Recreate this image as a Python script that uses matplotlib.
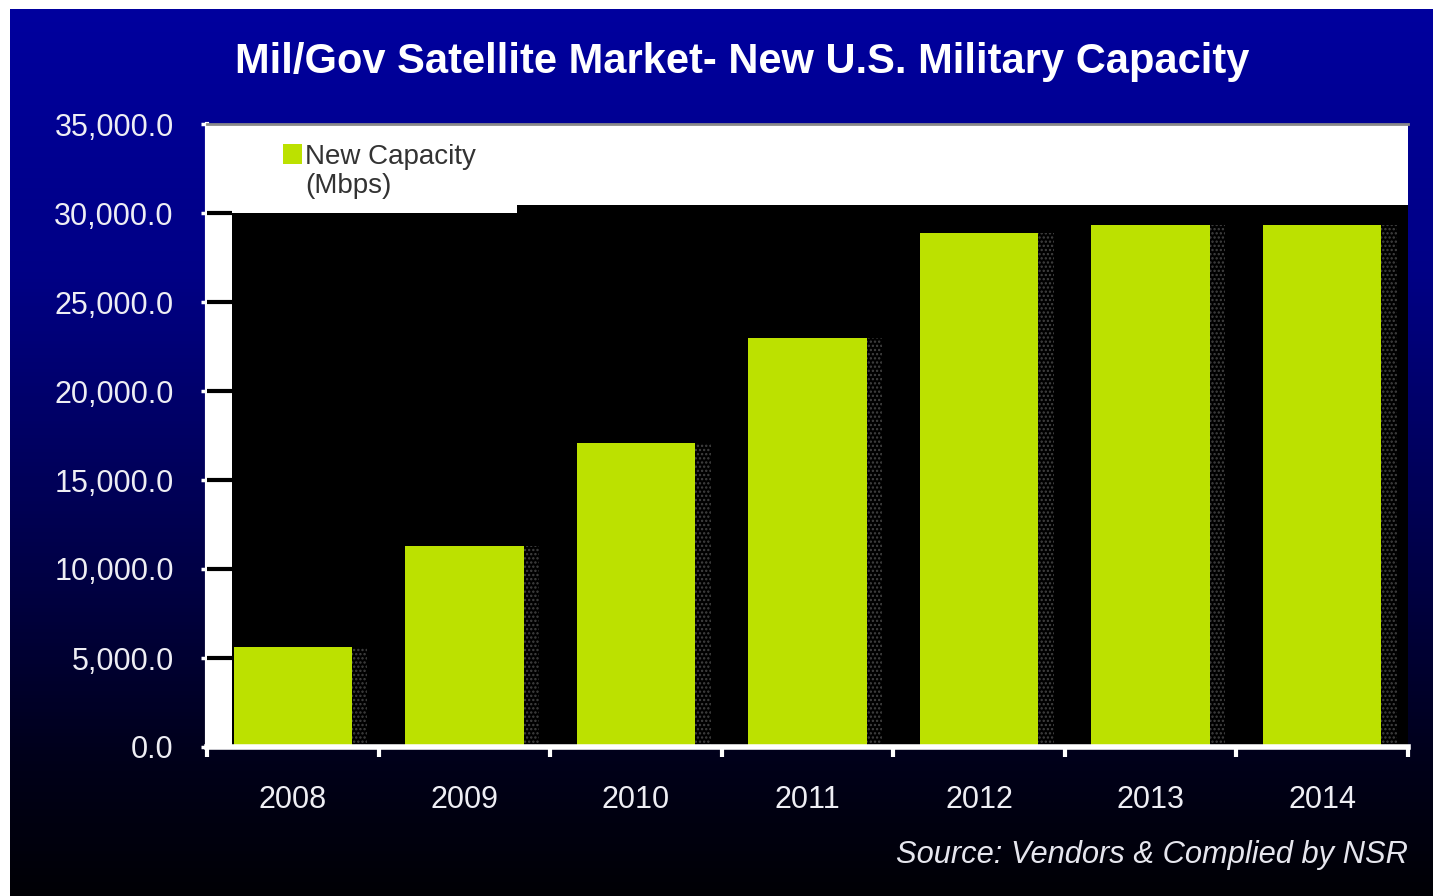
import matplotlib
matplotlib.use("Agg")
import matplotlib.pyplot as plt
import numpy as np
from matplotlib.colors import LinearSegmentedColormap
from matplotlib.patches import Polygon
import matplotlib.transforms as mtransforms
from matplotlib.ticker import FuncFormatter, FixedLocator

plt.rcParams['font.family'] = ['Liberation Sans', 'DejaVu Sans']
plt.rcParams['hatch.linewidth'] = 1.1

# ---- data ----
years = ["2008", "2009", "2010", "2011", "2012", "2013", "2014"]
capacity = [5600, 11300, 17100, 23000, 28900, 29300, 29300]
series_label = "New Capacity\n(Mbps)"
title = "Mil/Gov Satellite Market- New U.S. Military Capacity"
source = "Source: Vendors & Complied by NSR"
yticks = [0, 5000, 10000, 15000, 20000, 25000, 30000, 35000]

W, H = 1433, 896
fig = plt.figure(figsize=(W / 100, H / 100), dpi=100)
fig.patch.set_facecolor("white")

# background gradient panel
bg = fig.add_axes([10 / W, 0, 1 - 10 / W, 1 - 9 / H])
bg.set_axis_off()
cmap = LinearSegmentedColormap.from_list(
    "bg", [(0.0, (0, 0, 0.62)), (0.30, (0, 0, 0.52)), (0.60, (0, 0, 0.30)),
           (0.85, (0, 0, 0.10)), (1.0, (0, 0, 0.02))])
grad = np.linspace(0, 1, 256).reshape(-1, 1)
bg.imshow(grad, aspect="auto", cmap=cmap, extent=[0, 1, 0, 1], origin="upper")
bg.set_xlim(0, 1)
bg.set_ylim(0, 1)

# main axes
left, right, top, bottom = 207, 1408, 124, 747
ax = fig.add_axes([left / W, 1 - bottom / H, (right - left) / W, (bottom - top) / H])
ax.set_facecolor("white")
x = np.arange(len(years))

# black plot background (with step at top-left)
trans = mtransforms.blended_transform_factory(ax.transAxes, ax.transData)
poly = Polygon([(0.0208, 0), (0.0208, 30000), (0.258, 30000), (0.258, 30450),
                (1.0, 30450), (1.0, 0)], closed=True, transform=trans,
               facecolor="black", edgecolor="none", zorder=0.5)
ax.add_patch(poly)

bars = ax.bar(x, capacity, width=0.69, color="#BCE100", edgecolor="none",
              zorder=2, label=series_label)
# faint dotted shadow at right side of bars
ax.bar(x + 0.345 + 0.045, capacity, width=0.09, facecolor="black",
       edgecolor="#424242", linewidth=0, hatch="....", zorder=1.5)

ax.set_xlim(-0.5, len(years) - 0.5)
ax.set_ylim(0, 35000)
ax.set_yticks(yticks)
ax.yaxis.set_major_formatter(FuncFormatter(lambda v, p: f"{v:,.1f}"))
ax.tick_params(axis="y", colors="white", labelcolor="#EEEEF4", labelsize=22,
               direction="out", length=4, width=2.5, pad=20)
# inner black tick segments over white strip
ax.hlines(yticks[1:-1], 0, 0.0208, transform=trans, color="black", lw=3, zorder=3)

ax.set_xticks(x)
ax.set_xticklabels(years)
ax.tick_params(axis="x", which="major", length=0, labelsize=22,
               labelcolor="#EEEEF4", pad=27)
ax.xaxis.set_minor_locator(FixedLocator(np.arange(-0.5, len(years), 1.0)))
ax.tick_params(axis="x", which="minor", colors="white", direction="out",
               length=7, width=3)

ax.spines["right"].set_visible(False)
ax.spines["top"].set_color("#8A8A8A")
ax.spines["top"].set_linewidth(2)
ax.spines["left"].set_color("white")
ax.spines["left"].set_linewidth(3)
ax.spines["bottom"].set_color("white")
ax.spines["bottom"].set_linewidth(4)
ax.spines["bottom"].set_zorder(3)

leg = ax.legend(loc="upper left", bbox_to_anchor=(0.054, 0.985), frameon=False,
                fontsize=20, handlelength=0.68, handleheight=0.68,
                handletextpad=0.12, borderaxespad=0, labelspacing=0.2)
for t in leg.get_texts():
    t.set_color("#333333")
    t.set_linespacing(1.12)
try:
    for col in leg._legend_handle_box.get_children():
        for row in col.get_children():
            row.align = "top"
except Exception:
    pass

fig.text(742 / W, 1 - 62 / H, title, ha="center", va="center", color="white",
         fontsize=30, fontweight="bold")
fig.text(1408 / W, 1 - 855 / H, source, ha="right", va="center", color="#E6E6EE",
         fontsize=22.2, style="italic")

fig.savefig("out.png", dpi=100, facecolor=fig.get_facecolor())
